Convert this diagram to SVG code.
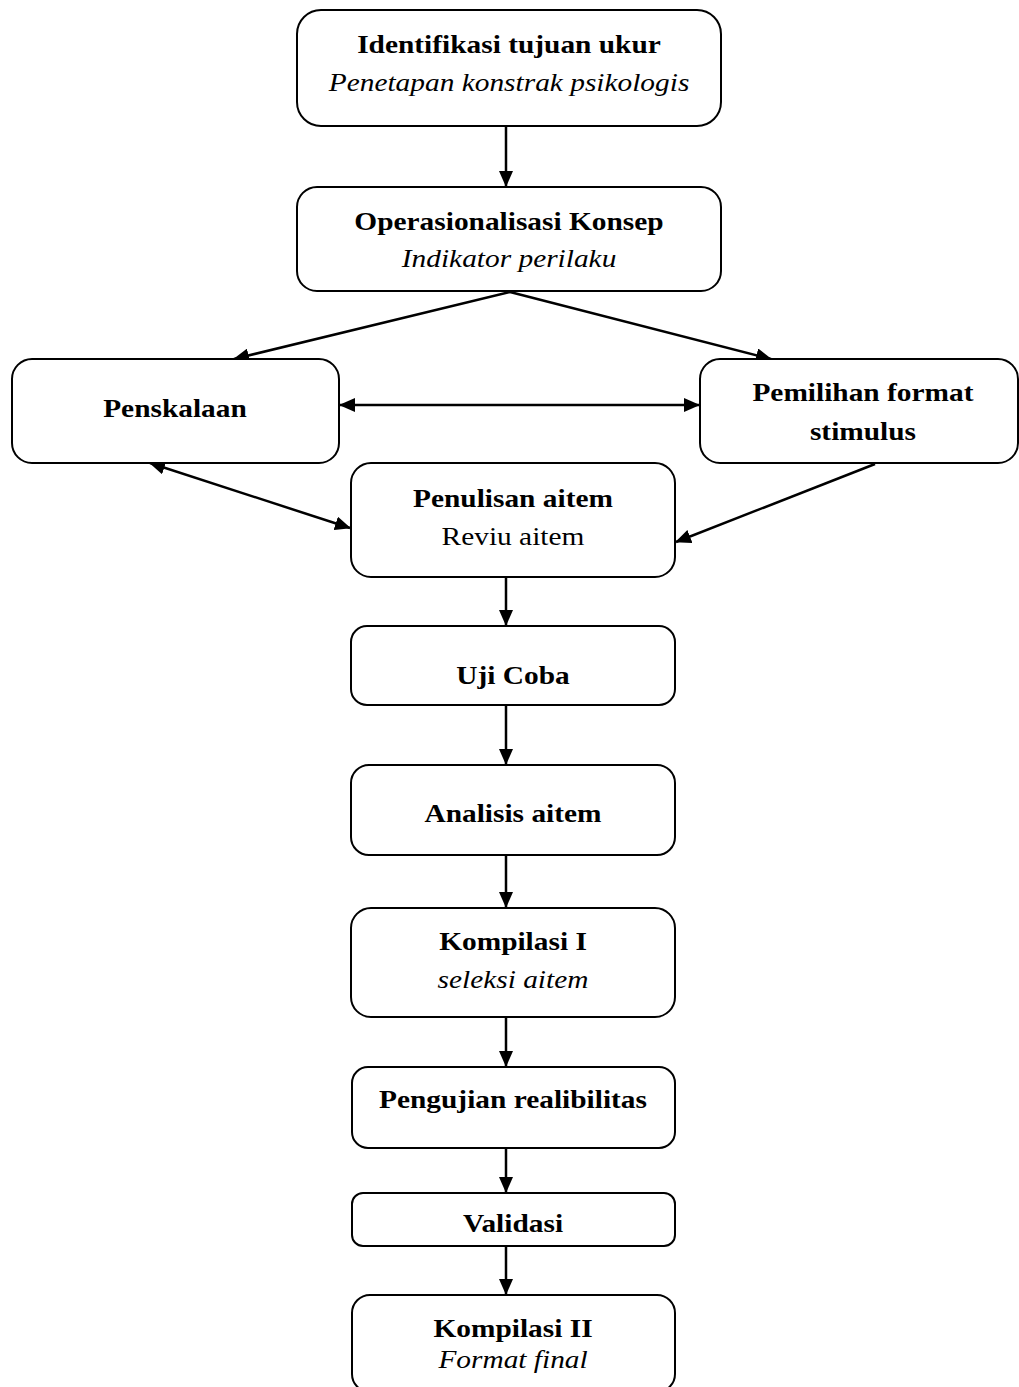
<svg xmlns="http://www.w3.org/2000/svg" width="1019" height="1387" viewBox="0 0 1019 1387">
<defs>
<style>
.box{fill:#fff;stroke:#000;stroke-width:2}
.t{font-family:"Liberation Serif","Times New Roman",serif;font-size:26px;text-anchor:middle;fill:#000;transform-box:fill-box;transform-origin:center;transform:scaleX(1.13)}
.b{font-weight:bold}
.i{font-style:italic}
.c{stroke:#000;stroke-width:2.5;fill:none}
</style>
<marker id="ah" markerWidth="16" markerHeight="14" refX="15" refY="7" orient="auto-start-reverse" markerUnits="userSpaceOnUse"><path d="M0,0 L16,7 L0,14 z" fill="#000"/></marker>
</defs>
<rect width="1019" height="1387" fill="#fff"/>
<g id="connectors">
<line class="c" x1="506" y1="127" x2="506" y2="186" marker-end="url(#ah)"/>
<line class="c" x1="510" y1="292" x2="234" y2="359" marker-end="url(#ah)"/>
<line class="c" x1="510" y1="292" x2="771" y2="359" marker-end="url(#ah)"/>
<line class="c" x1="340" y1="405" x2="699" y2="405" marker-start="url(#ah)" marker-end="url(#ah)"/>
<line class="c" x1="150" y1="463" x2="350" y2="528" marker-start="url(#ah)" marker-end="url(#ah)"/>
<line class="c" x1="875" y1="464" x2="676" y2="542" marker-end="url(#ah)"/>
<line class="c" x1="506" y1="578" x2="506" y2="625" marker-end="url(#ah)"/>
<line class="c" x1="506" y1="706" x2="506" y2="764" marker-end="url(#ah)"/>
<line class="c" x1="506" y1="856" x2="506" y2="907" marker-end="url(#ah)"/>
<line class="c" x1="506" y1="1018" x2="506" y2="1066" marker-end="url(#ah)"/>
<line class="c" x1="506" y1="1148" x2="506" y2="1192" marker-end="url(#ah)"/>
<line class="c" x1="506" y1="1246" x2="506" y2="1294" marker-end="url(#ah)"/>
</g>
<g id="n1"><rect class="box" x="297" y="10" width="424" height="116" rx="24"/>
<text class="t b" x="509" y="53">Identifikasi tujuan ukur</text>
<text class="t i" x="509" y="91">Penetapan konstrak psikologis</text></g>
<g id="n2"><rect class="box" x="297" y="187" width="424" height="104" rx="20"/>
<text class="t b" x="509" y="230">Operasionalisasi Konsep</text>
<text class="t i" x="509" y="267">Indikator perilaku</text></g>
<g id="n3"><rect class="box" x="12" y="359" width="327" height="104" rx="20"/>
<text class="t b" x="175" y="417">Penskalaan</text></g>
<g id="n4"><rect class="box" x="700" y="359" width="318" height="104" rx="20"/>
<text class="t b" x="863" y="401">Pemilihan format</text>
<text class="t b" x="863" y="440">stimulus</text></g>
<g id="n5"><rect class="box" x="351" y="463" width="324" height="114" rx="20"/>
<text class="t b" x="513" y="507">Penulisan aitem</text>
<text class="t" x="513" y="545">Reviu aitem</text></g>
<g id="n6"><rect class="box" x="351" y="626" width="324" height="79" rx="16"/>
<text class="t b" x="513" y="684">Uji Coba</text></g>
<g id="n7"><rect class="box" x="351" y="765" width="324" height="90" rx="18"/>
<text class="t b" x="513" y="822">Analisis aitem</text></g>
<g id="n8"><rect class="box" x="351" y="908" width="324" height="109" rx="20"/>
<text class="t b" x="513" y="950">Kompilasi I</text>
<text class="t i" x="513" y="988">seleksi aitem</text></g>
<g id="n9"><rect class="box" x="352" y="1067" width="323" height="81" rx="16"/>
<text class="t b" x="513" y="1108">Pengujian realibilitas</text></g>
<g id="n10"><rect class="box" x="352" y="1193" width="323" height="53" rx="11"/>
<text class="t b" x="513" y="1232">Validasi</text></g>
<g id="n11"><rect class="box" x="352" y="1295" width="323" height="97" rx="18"/>
<text class="t b" x="513" y="1337">Kompilasi II</text>
<text class="t i" x="513" y="1368">Format final</text></g>
</svg>
